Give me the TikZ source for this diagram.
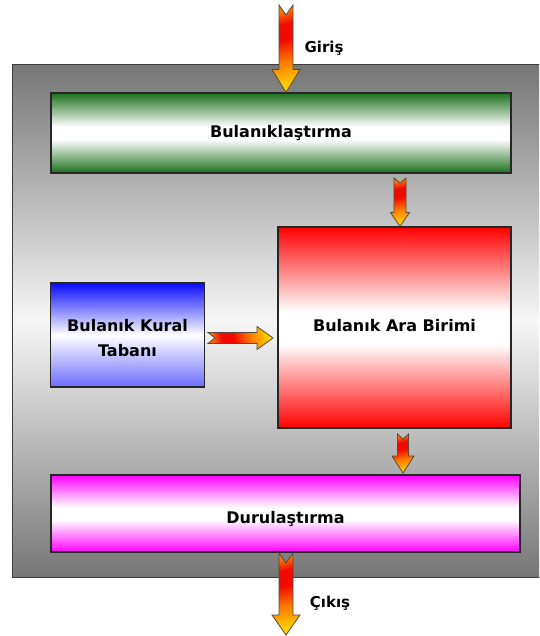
\documentclass[tikz,border=0pt]{standalone}
\usepackage{fontspec}
\setmainfont{DejaVu Sans}
\usetikzlibrary{calc}

\definecolor{panelgray}{RGB}{118,118,118}
\definecolor{panellight}{RGB}{246,246,246}
\definecolor{fzgreen}{RGB}{28,112,28}
\definecolor{fzred}{RGB}{255,0,0}
\definecolor{fzblue}{RGB}{10,10,255}
\definecolor{fzmagenta}{RGB}{255,0,255}
\definecolor{fireyellow}{RGB}{255,205,0}
\definecolor{fireorange}{RGB}{255,120,0}
\definecolor{firered}{RGB}{240,10,0}
\definecolor{edgegray}{RGB}{60,60,60}

% vertical shadings: dark edges, white band in the middle
\pgfdeclareverticalshading{panelshade}{100bp}{color(0bp)=(panelgray); color(25bp)=(panelgray); color(50bp)=(panellight); color(75bp)=(panelgray); color(100bp)=(panelgray)}
\pgfdeclareverticalshading{greenshade}{100bp}{color(0bp)=(fzgreen); color(25bp)=(fzgreen); color(46bp)=(white); color(54bp)=(white); color(75bp)=(fzgreen); color(100bp)=(fzgreen)}
\pgfdeclareverticalshading{redshade}{100bp}{color(0bp)=(fzred); color(25bp)=(fzred); color(46bp)=(white); color(54bp)=(white); color(75bp)=(fzred); color(100bp)=(fzred)}
\pgfdeclareverticalshading{blueshade}{100bp}{color(0bp)=(fzblue); color(25bp)=(fzblue!60!white); color(50bp)=(white); color(75bp)=(fzblue); color(100bp)=(fzblue)}
\pgfdeclareverticalshading{magentashade}{100bp}{color(0bp)=(fzmagenta); color(25bp)=(fzmagenta); color(46bp)=(white); color(54bp)=(white); color(75bp)=(fzmagenta); color(100bp)=(fzmagenta)}
% flame colours along a block arrow: yellow at the tip, red band, orange tail
\pgfdeclareverticalshading{fireshade}{100bp}{color(0bp)=(fireyellow); color(27bp)=(fireyellow); color(42bp)=(fireorange); color(56bp)=(firered); color(66bp)=(firered); color(75bp)=(fireorange); color(100bp)=(fireorange)}

\tikzset{
  blocktext/.style={font=\bfseries\fontsize{16}{25}\selectfont, text=black},
  stagebox/.style={draw=black!85, line width=1.1pt, blocktext, inner sep=0pt},
  panelbox/.style={draw=edgegray, line width=1pt, shading=panelshade},
  firearrow/.style={draw=edgegray!80!brown, line width=0.8pt, shading=fireshade, line join=miter},
  iolabel/.style={blocktext, font=\bfseries\fontsize{15}{18}\selectfont}
}

% shift text vertically without changing the node's size
\newcommand\nudge[2]{\raisebox{#1}[\height][\depth]{#2}}

% block arrow with notched tail: #1 tail, #2 tip, #3 half shaft width,
% #4 half head width, #5 head length, #6 notch depth, #7 shading angle
\newcommand\fatarrow[7]{%
  \path[firearrow, shading angle=#7]
    ($(#1)!#3!90:(#2)$)
    -- ($(#2)!#5!(#1)!#3!90:(#2)$)
    -- ($(#2)!#5!(#1)!#4!90:(#2)$)
    -- (#2)
    -- ($(#2)!#5!(#1)!#4!-90:(#2)$)
    -- ($(#2)!#5!(#1)!#3!-90:(#2)$)
    -- ($(#1)!#3!-90:(#2)$)
    -- ($(#1)!#6!(#2)$)
    -- cycle;}

\begin{document}
\begin{tikzpicture}[x=1pt, y=-1pt]
  \useasboundingbox (0,0) rectangle (539,636);
  \begin{scope}
    \clip (0,0) rectangle (539,636);
    \node[panelbox, anchor=north west, minimum width=540pt, minimum height=513pt, inner sep=0pt] (panel) at (12,64) {};
  \end{scope}

  % processing stages
  \node[stagebox, shading=greenshade, minimum width=460pt, minimum height=80pt] (fuzz) at (281,133) {Bulanıklaştırma};
  \node[stagebox, shading=redshade, minimum width=233pt, minimum height=201pt] (engine) at (394.5,327.5) {\nudge{2pt}{Bulanık Ara Birimi}};
  \node[stagebox, shading=blueshade, minimum width=154pt, minimum height=104pt, align=center] (rules) at (127.5,335) {\nudge{-3pt}{Bulanık Kural}\\\nudge{-3pt}{Tabanı}};
  \node[stagebox, shading=magentashade, minimum width=469pt, minimum height=77pt] (defuzz) at (285.5,513.5) {\nudge{-5pt}{Durulaştırma}};

  % arrow end points
  \coordinate (inTail) at (286,5);
  \coordinate (inTip) at (fuzz.north -| inTail);
  \coordinate (aTail) at (400,178);
  \coordinate (aTip) at (engine.north -| aTail);
  \coordinate (bTail) at (403,434);
  \coordinate (bTip) at (403,473);
  \coordinate (rTail) at (208,338);
  \coordinate (rTip) at (273,338);
  \coordinate (outTail) at (286,553);
  \coordinate (outTip) at (286,635);

  \fatarrow{inTail}{inTip}{7pt}{14pt}{23pt}{10pt}{12}
  \fatarrow{aTail}{aTip}{6pt}{9.5pt}{14pt}{5pt}{12}
  \fatarrow{bTail}{bTip}{5.5pt}{11pt}{17pt}{5pt}{12}
  \fatarrow{rTail}{rTip}{5.5pt}{11.5pt}{16pt}{7pt}{100}
  \fatarrow{outTail}{outTip}{7pt}{14pt}{20pt}{10pt}{12}

  % input and output labels
  \node[iolabel] (giris) at (324,48) {Giriş};
  \node[iolabel] (cikis) at (330,603) {Çıkış};
\end{tikzpicture}
\end{document}
